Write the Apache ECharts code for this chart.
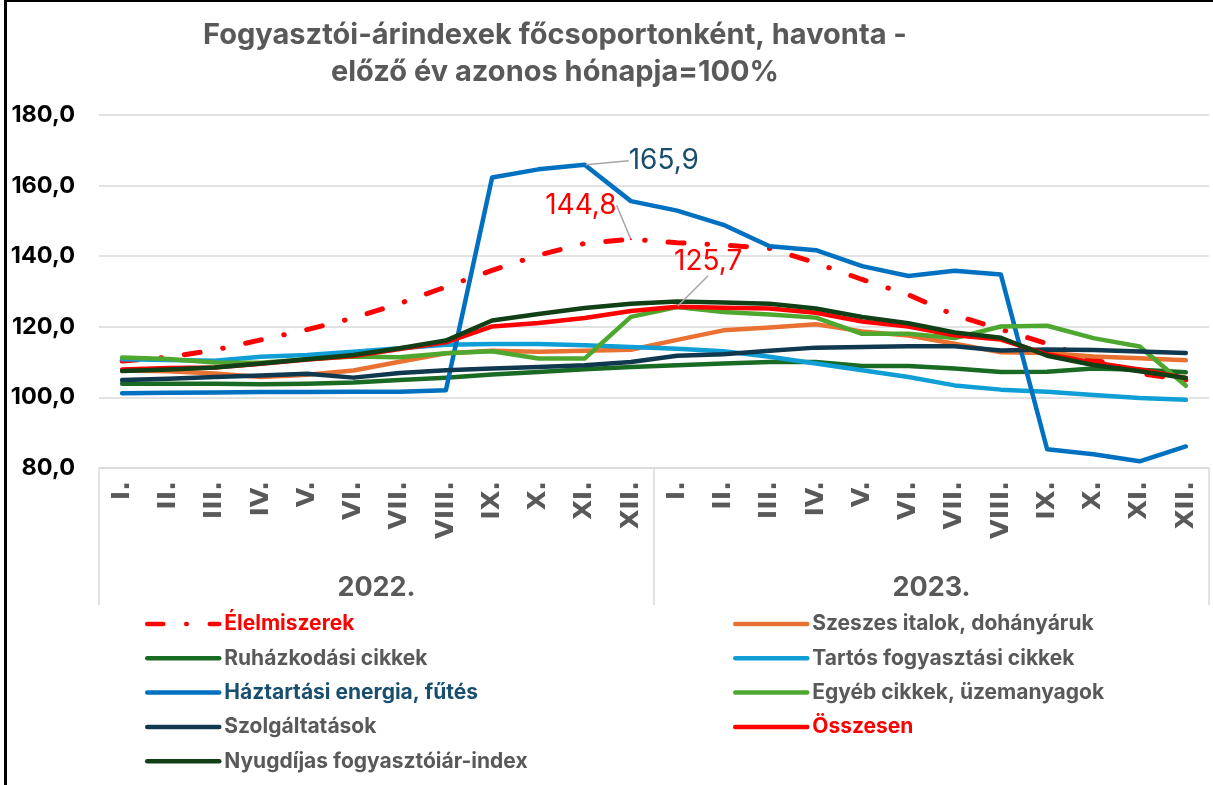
<!DOCTYPE html>
<html>
<head>
<meta charset="utf-8">
<script src="https://cdn.jsdelivr.net/npm/echarts@6/dist/echarts.min.js"></script>
<style>
  html, body { margin: 0; padding: 0; background: #fff; }
  #chart { width: 1213px; height: 785px; }
  #frame {
    position: absolute; left: 4px; top: 0; width: 1213px; height: 785px;
    border-left: 3px solid #000; border-top: 2px solid #000; pointer-events: none;
  }
</style>
</head>
<body>
<div id="chart"></div>
<div id="frame"></div>
<script>
// havonta, 2022. I. - 2023. XII.
const months = ["I.", "II.", "III.", "IV.", "V.", "VI.", "VII.", "VIII.", "IX.", "X.", "XI.", "XII."];
const years = ["2022.", "2023."];
const categories = months.concat(months);
const yTicks = [80, 100, 120, 140, 160, 180];

const elelmiszerek = [110.3, 111.4, 113.4, 116.3, 119.2, 122.5, 126.6, 131.3, 136.0, 140.3, 143.6, 144.8,
                      143.8, 143.2, 142.2, 138.1, 133.4, 129.1, 123.3, 119.3, 115.2, 110.8, 106.8, 104.9];
const szeszes = [107.6, 107.4, 106.8, 105.8, 106.4, 107.6, 110.1, 112.5, 113.2, 112.9, 113.2, 113.5,
                 116.3, 119.0, 119.8, 120.7, 118.7, 117.5, 115.2, 112.8, 112.6, 111.6, 111.1, 110.5];
const ruhazkodasi = [103.9, 103.9, 103.9, 103.7, 103.9, 104.2, 104.9, 105.6, 106.5, 107.2, 108.0, 108.6,
                     109.1, 109.6, 110.0, 110.0, 108.9, 108.9, 108.2, 107.2, 107.3, 108.2, 107.8, 107.1];
const tartos = [110.8, 110.6, 110.4, 111.5, 112.0, 112.9, 113.9, 114.9, 115.1, 115.1, 114.8, 114.3,
                113.8, 113.1, 111.5, 109.6, 107.7, 105.8, 103.4, 102.2, 101.6, 100.7, 99.8, 99.3];
const haztartasi = [101.2, 101.3, 101.4, 101.5, 101.5, 101.6, 101.6, 102.0, 162.3, 164.6, 165.9, 155.6,
                    152.9, 148.9, 142.8, 141.7, 137.2, 134.4, 135.9, 134.8, 85.3, 83.9, 81.9, 86.1];
const egyeb = [111.3, 110.9, 109.9, 109.8, 110.8, 111.6, 111.4, 112.5, 113.1, 111.0, 111.0, 122.8,
               125.6, 124.2, 123.5, 122.6, 118.0, 118.0, 116.8, 120.1, 120.3, 116.8, 114.4, 103.3];
const szolgaltatasok = [104.9, 105.3, 105.8, 106.2, 106.7, 105.6, 106.9, 107.7, 108.2, 108.6, 109.1, 110.0,
                        111.8, 112.2, 113.2, 114.1, 114.3, 114.5, 114.5, 113.3, 113.6, 113.4, 113.0, 112.6];
const osszesen = [107.9, 108.3, 108.5, 109.5, 110.7, 111.7, 113.7, 115.6, 120.1, 121.1, 122.5, 124.5,
                  125.7, 125.4, 125.2, 124.0, 121.5, 120.1, 117.6, 116.4, 112.2, 109.9, 107.9, 105.5];
const nyugdijas = [107.5, 107.9, 108.5, 109.6, 110.8, 112.0, 113.9, 116.1, 121.8, 123.6, 125.3, 126.5,
                   127.2, 126.9, 126.5, 125.2, 122.8, 121.0, 118.4, 116.9, 111.8, 109.2, 107.4, 105.5];

const GRAY = "#595959";
const FONT = "Inter";
const fmt = v => v.toFixed(1).replace(".", ",");

const seriesDefs = [
  { name: "Élelmiszerek", data: elelmiszerek, color: "#FF0000", text: "#FF0000", dash: [16, 23, 0.5, 23], width: 5 },
  { name: "Szeszes italok, dohányáruk", data: szeszes, color: "#E97132" },
  { name: "Ruházkodási cikkek", data: ruhazkodasi, color: "#196B24" },
  { name: "Tartós fogyasztási cikkek", data: tartos, color: "#0F9ED5" },
  { name: "Háztartási energia, fűtés", data: haztartasi, color: "#0070C0", text: "#184E6E" },
  { name: "Egyéb cikkek, üzemanyagok", data: egyeb, color: "#4EA72E" },
  { name: "Szolgáltatások", data: szolgaltatasok, color: "#10394F" },
  { name: "Összesen", data: osszesen, color: "#FF0000", text: "#FF0000" },
  { name: "Nyugdíjas fogyasztóiár-index", data: nyugdijas, color: "#113F16" }
];

// kiemelt értékek
const callouts = {
  "Háztartási energia, fűtés": { index: 10, color: "#184E6E", position: "right", dx: 38, dy: -4 },
  "Élelmiszerek": { index: 11, color: "#FF0000", position: "top", dx: -50, dy: -14 },
  "Összesen": { index: 12, color: "#FF0000", position: "top", dx: 31, dy: -25 }
};

const series = seriesDefs.map(d => {
  const c = callouts[d.name];
  return {
    name: d.name,
    type: "line",
    symbol: "none",
    data: d.data.map((v, i) => {
      if (!c || c.index !== i) return v;
      return {
        value: v,
        symbol: "circle",
        symbolSize: 2,
        label: {
          show: true, position: c.position, color: c.color,
          fontFamily: FONT, fontSize: 28, fontWeight: "normal",
          formatter: p => fmt(p.value)
        },
        labelLine: { show: true, lineStyle: { color: "#A6A6A6", width: 1.5 } }
      };
    }),
    itemStyle: { color: d.color },
    lineStyle: { color: d.color, width: d.width || 4.5, type: d.dash || "solid", cap: "round", join: "round" },
    labelLayout: p => (c && p.dataIndex === c.index) ? { dx: c.dx, dy: c.dy } : {},
    emphasis: { disabled: true },
    z: 2
  };
});

function legendItems(names) {
  return names.map(n => {
    const d = seriesDefs.find(s => s.name === n);
    return { name: n, textStyle: { color: d.text || GRAY } };
  });
}

const legendBase = {
  orient: "vertical",
  top: 607,
  itemWidth: 72,
  itemHeight: 12,
  itemGap: 10.3,
  selectedMode: false,
  itemStyle: { opacity: 0 },
  lineStyle: { width: 4.5 },
  textStyle: { fontFamily: FONT, fontSize: 21, fontWeight: "bold", color: GRAY, lineHeight: 24 }
};

const option = {
  animation: false,
  backgroundColor: "#fff",
  title: {
    text: "Fogyasztói-árindexek főcsoportonként, havonta -\nelőző év azonos hónapja=100%",
    left: 550,
    top: 12,
    textAlign: "center",
    textStyle: { fontFamily: FONT, fontSize: 29, fontWeight: "bold", color: GRAY, lineHeight: 37 }
  },
  legend: [
    Object.assign({}, legendBase, {
      left: 140,
      data: legendItems(["Élelmiszerek", "Ruházkodási cikkek", "Háztartási energia, fűtés",
                         "Szolgáltatások", "Nyugdíjas fogyasztóiár-index"])
    }),
    Object.assign({}, legendBase, {
      left: 728,
      data: legendItems(["Szeszes italok, dohányáruk", "Tartós fogyasztási cikkek",
                         "Egyéb cikkek, üzemanyagok", "Összesen"])
    })
  ],
  grid: { left: 99, right: 4, top: 115, bottom: 317 },
  xAxis: [
    {
      type: "category",
      data: categories,
      boundaryGap: true,
      axisLine: { lineStyle: { color: "#D9D9D9", width: 1.5 } },
      axisTick: { show: false },
      axisLabel: {
        interval: 0, rotate: 90, margin: 13,
        fontFamily: "DejaVu Sans", fontSize: 25.5, fontWeight: "bold", color: GRAY
      }
    },
    {
      type: "category",
      data: years,
      position: "bottom",
      offset: 137,
      boundaryGap: true,
      axisLine: { show: false },
      axisTick: { show: true, inside: true, length: 137, lineStyle: { color: "#D9D9D9", width: 1.5 } },
      axisLabel: {
        inside: true, margin: 4,
        fontFamily: FONT, fontSize: 27, fontWeight: "bold", color: GRAY
      }
    }
  ],
  yAxis: {
    type: "value",
    min: yTicks[0],
    max: yTicks[yTicks.length - 1],
    interval: 20,
    axisLine: { show: false },
    axisTick: { show: false },
    splitLine: { lineStyle: { color: "#D9D9D9", width: 1.5 } },
    axisLabel: {
      margin: 24,
      fontFamily: FONT, fontSize: 23.5, fontWeight: "bold", color: "#000",
      formatter: v => fmt(v)
    }
  },
  series: series
};

const chart = echarts.init(document.getElementById("chart"), null, { renderer: "canvas" });
chart.setOption(option);
</script>
</body>
</html>
